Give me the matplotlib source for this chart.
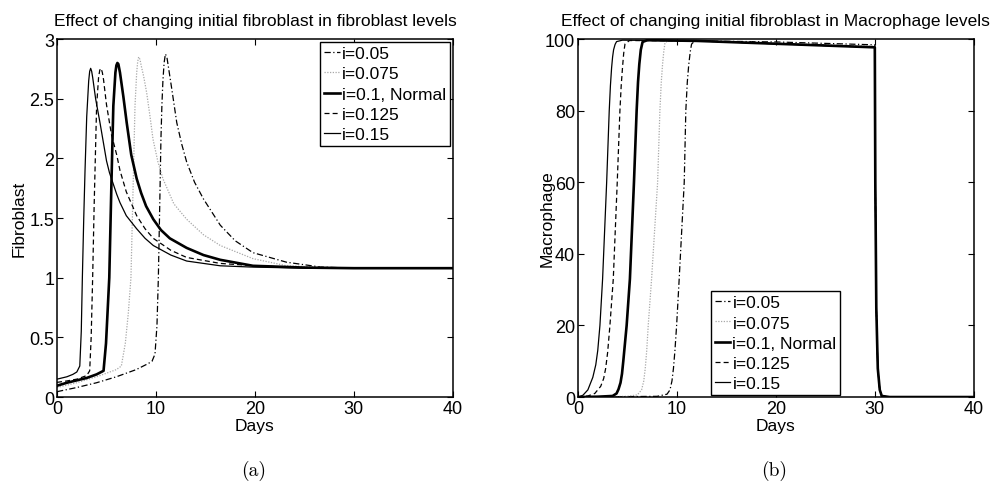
import matplotlib
matplotlib.use('Agg')
import matplotlib.pyplot as plt

plt.rcParams['font.family'] = ['Liberation Sans', 'DejaVu Sans']
plt.rcParams['font.size'] = 12.5

legend_labels = ['i=0.05', 'i=0.075', 'i=0.1, Normal', 'i=0.125', 'i=0.15']

# Fibroblast levels (panel a)
fib_t_005 = [0, 2, 4, 6, 8, 9.2, 9.6, 9.9, 10.1, 10.24, 10.4, 10.5, 10.6, 10.7, 10.82, 10.95, 11.1, 11.25, 11.6, 12.1, 12.6, 13.1, 13.9, 14.8, 16.5, 18, 19.8, 23.2, 26.6, 30, 40]
fib_y_005 = [0.045, 0.08, 0.12, 0.17, 0.23, 0.28, 0.30, 0.36, 0.6, 1.0, 1.7, 2.16, 2.45, 2.65, 2.8, 2.875, 2.85, 2.77, 2.58, 2.30, 2.12, 1.97, 1.80, 1.66, 1.44, 1.31, 1.21, 1.13, 1.09, 1.08, 1.08]

fib_t_0075 = [0, 2, 4, 6, 6.5, 6.9, 7.2, 7.47, 7.7, 7.88, 8.05, 8.15, 8.25, 8.38, 8.5, 8.75, 9.06, 9.4, 9.7, 10.2, 10.7, 11.8, 13.1, 14.8, 16.5, 19.8, 23.2, 28, 40]
fib_y_0075 = [0.08, 0.12, 0.17, 0.23, 0.26, 0.45, 0.7, 1.0, 1.8, 2.44, 2.72, 2.81, 2.85, 2.83, 2.78, 2.69, 2.55, 2.35, 2.16, 1.97, 1.83, 1.62, 1.49, 1.36, 1.27, 1.16, 1.10, 1.085, 1.08]

fib_t_01 = [0, 1, 2, 3, 4, 4.7, 4.95, 5.1, 5.28, 5.5, 5.69, 5.9, 6.0, 6.1, 6.2, 6.36, 6.7, 7.04, 7.5, 8.05, 8.5, 9.0, 9.73, 10.5, 11.4, 13.1, 14.8, 16.5, 19.8, 25, 30, 40]
fib_y_01 = [0.095, 0.12, 0.14, 0.16, 0.19, 0.22, 0.45, 0.7, 1.0, 1.8, 2.44, 2.72, 2.78, 2.80, 2.79, 2.72, 2.52, 2.30, 2.03, 1.83, 1.71, 1.60, 1.49, 1.40, 1.33, 1.25, 1.19, 1.15, 1.10, 1.085, 1.08, 1.08]

fib_t_0125 = [0, 1, 2, 3, 3.3, 3.45, 3.6, 3.75, 4.0, 4.2, 4.32, 4.45, 4.58, 4.7, 5.0, 5.5, 6.03, 6.36, 7.0, 8.05, 8.9, 9.73, 11.5, 13.1, 16.5, 20, 25, 30, 40]
fib_y_0125 = [0.123, 0.135, 0.15, 0.18, 0.22, 0.5, 1.0, 1.6, 2.44, 2.68, 2.74, 2.755, 2.72, 2.66, 2.45, 2.2, 2.03, 1.90, 1.72, 1.52, 1.41, 1.33, 1.23, 1.17, 1.12, 1.10, 1.085, 1.08, 1.08]

fib_t_015 = [0, 1, 1.6, 2, 2.3, 2.45, 2.56, 2.7, 2.83, 3.0, 3.2, 3.3, 3.4, 3.5, 3.6, 3.9, 4.34, 5.0, 5.3, 6.03, 6.36, 7.0, 8.05, 8.9, 9.73, 11.5, 13.1, 16.5, 19.5, 25, 30, 40]
fib_y_015 = [0.15, 0.17, 0.19, 0.21, 0.26, 0.55, 1.0, 1.5, 1.9, 2.35, 2.65, 2.73, 2.755, 2.73, 2.68, 2.5, 2.30, 1.98, 1.88, 1.70, 1.63, 1.52, 1.41, 1.33, 1.27, 1.19, 1.14, 1.10, 1.09, 1.08, 1.08, 1.08]

# Macrophage levels (panel b); all curves share the drop after day 30
mac_drop_t = [30.05, 30.15, 30.3, 30.5, 30.7, 31.5, 40]
mac_drop_y = [60, 25, 8, 2, 0.3, 0, 0]

mac_t_005 = [0, 8, 9.0, 9.3, 9.5, 9.65, 9.8, 9.97, 10.23, 10.74, 10.9, 11.05, 11.2, 11.35, 11.48, 11.7, 12, 20, 30]
mac_y_005 = [0, 0.2, 0.8, 2, 4.5, 8, 13, 20, 33, 60, 80, 88, 93, 96.5, 98.6, 99.2, 99.5, 99.2, 98.4]

mac_t_0075 = [0, 5, 6.0, 6.43, 6.65, 6.8, 6.95, 7.1, 7.44, 8.05, 8.28, 8.42, 8.55, 8.67, 8.79, 9.0, 9.3, 12, 30]
mac_y_0075 = [0, 0.2, 0.6, 2, 4.5, 8, 13, 20, 33, 60, 80, 88, 93, 96.5, 98.9, 99.4, 99.6, 99.6, 98.0]

mac_t_01 = [0, 2, 3.5, 3.9, 4.1, 4.3, 4.45, 4.58, 4.92, 5.25, 5.66, 5.93, 6.07, 6.2, 6.35, 6.53, 7, 12, 30]
mac_y_01 = [0, 0.1, 0.3, 1, 2.2, 4, 6.5, 10, 20, 33, 60, 80, 88, 93, 97, 99.2, 99.7, 99.5, 97.7]

mac_t_0125 = [0, 1.0, 1.7, 2.3, 2.6, 2.8, 3.0, 3.23, 3.57, 3.97, 4.24, 4.37, 4.5, 4.62, 4.75, 5.2, 12, 30]
mac_y_0125 = [0, 0.3, 1, 3, 5.2, 8, 12.5, 20, 33, 60, 80, 87, 92, 96, 98.6, 99.6, 99.5, 97.7]

mac_t_015 = [0, 0.5, 1.0, 1.5, 1.8, 2.0, 2.22, 2.49, 2.9, 3.16, 3.28, 3.4, 3.5, 3.6, 3.75, 3.9, 4.5, 12, 30]
mac_y_015 = [0, 0.5, 2, 5.5, 9, 13, 20, 33, 60, 80, 87, 92, 95, 97, 98.5, 99.3, 99.7, 99.5, 97.7]

# line style per series, in legend order
styles = [
    dict(color='black', lw=0.9, ls=(0, (5, 2, 1, 2))),
    dict(color='#a8a8a8', lw=0.9, ls=(0, (1, 1.2))),
    dict(color='black', lw=1.9, ls='-'),
    dict(color='black', lw=0.9, ls=(0, (4, 2.5))),
    dict(color='black', lw=0.9, ls='-'),
]

fib_series = [(fib_t_005, fib_y_005), (fib_t_0075, fib_y_0075), (fib_t_01, fib_y_01),
              (fib_t_0125, fib_y_0125), (fib_t_015, fib_y_015)]
mac_series = [(mac_t_005 + mac_drop_t, mac_y_005 + mac_drop_y),
              (mac_t_0075 + mac_drop_t, mac_y_0075 + mac_drop_y),
              (mac_t_01 + mac_drop_t, mac_y_01 + mac_drop_y),
              (mac_t_0125 + mac_drop_t, mac_y_0125 + mac_drop_y),
              (mac_t_015 + mac_drop_t, mac_y_015 + mac_drop_y)]

fig = plt.figure(figsize=(9.97, 4.89), dpi=100)
ax1 = fig.add_axes([0.0572, 0.186, 0.397, 0.732])
ax2 = fig.add_axes([0.5797, 0.186, 0.397, 0.732])

for (t, y), st, lab in zip(fib_series, styles, legend_labels):
    ax1.plot(t, y, label=lab, **st)
for (t, y), st, lab in zip(mac_series, styles, legend_labels):
    ax2.plot(t, y, label=lab, **st)

def style_axes(ax):
    ax.set_xlim(0, 40)
    ax.set_xticks([0, 10, 20, 30, 40])
    ax.tick_params(direction='in', top=True, right=True, length=4, width=0.8, pad=2,
                   labelsize=13)
    for sp in ax.spines.values():
        sp.set_linewidth(1.1)
    ax.set_xlabel('Days')
    ax.xaxis.set_label_coords(0.5, -0.058)

style_axes(ax1)
ax1.set_ylim(0, 3)
ax1.set_yticks([0, 0.5, 1, 1.5, 2, 2.5, 3])
ax1.set_yticklabels(['0', '0.5', '1', '1.5', '2', '2.5', '3'])
ax1.set_ylabel('Fibroblast')
ax1.yaxis.set_label_coords(-0.078, 0.5)
ax1.set_title('Effect of changing initial fibroblast in fibroblast levels', fontsize=12.5, pad=10)

style_axes(ax2)
ax2.set_ylim(0, 100)
ax2.set_yticks([0, 20, 40, 60, 80, 100])
ax2.set_ylabel('Macrophage')
ax2.yaxis.set_label_coords(-0.06, 0.5)
ax2.set_title('Effect of changing initial fibroblast in Macrophage levels', fontsize=12.5, pad=10)

leg_kw = dict(fancybox=False, edgecolor='black', framealpha=1, handlelength=0.9,
              handletextpad=0.12, labelspacing=0.29, borderpad=0.22, borderaxespad=0,
              fontsize=12.5)
l1 = ax1.legend(loc='upper right', bbox_to_anchor=(0.992, 0.991), **leg_kw)
l2 = ax2.legend(loc='lower left', bbox_to_anchor=(0.336, 0.006), **leg_kw)
for l in (l1, l2):
    l.get_frame().set_linewidth(1.0)

fig.text(0.254, 0.037, '(a)', family='cmr10', fontsize=14, ha='center', va='center')
fig.text(0.776, 0.037, '(b)', family='cmr10', fontsize=14, ha='center', va='center')

fig.savefig('out.png', dpi=100)
